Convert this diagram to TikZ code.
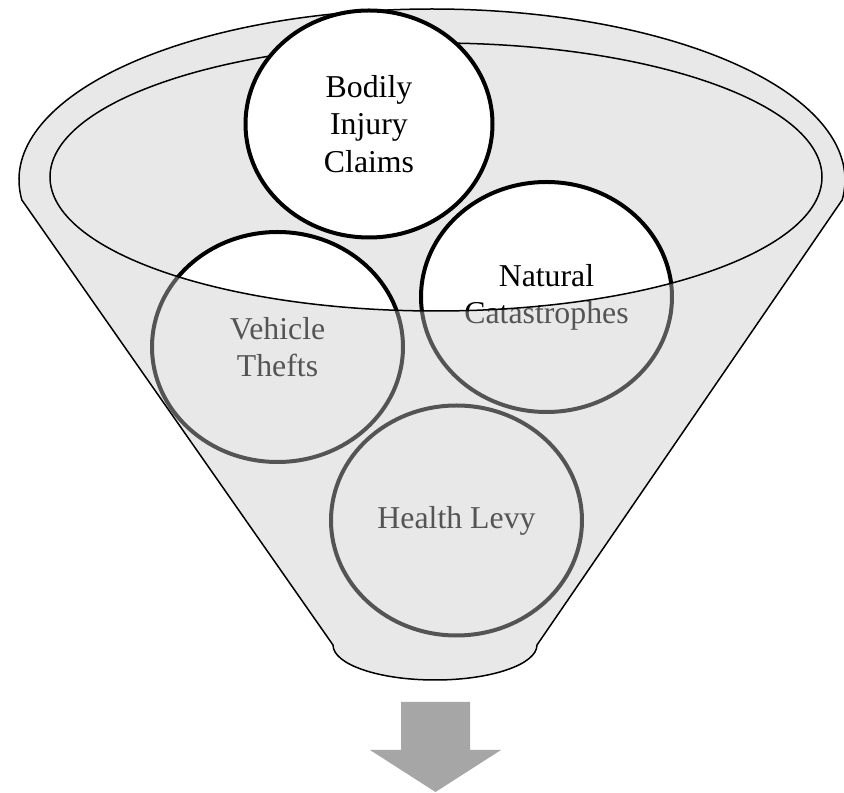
\documentclass[tikz,border=0pt]{standalone}
\usepackage{fontspec}
\setmainfont{Liberation Serif}
\usetikzlibrary{shapes.geometric}
\definecolor{funnelgray}{RGB}{232,232,232}
\definecolor{veilgray}{RGB}{201,201,201}
\definecolor{arrowgray}{RGB}{166,166,166}
\tikzset{
  bubble/.style={ellipse, draw=black, line width=4pt, fill=white, inner sep=0pt,
    minimum width=251pt, minimum height=230pt, align=center,
    font=\fontsize{31.8}{37}\selectfont},
  rim/.style={draw=black, line width=1.5pt}
}
\begin{document}
\begin{tikzpicture}[x=1pt,y=1pt]
  \useasboundingbox (0,0) rectangle (844,793);
  % back of the funnel
  \fill[funnelgray] (436,616) ellipse [x radius=386, y radius=134];
  % bubbles that fall in
  \node[bubble] (vehicle) at (277.5,446) {Vehicle\\Thefts};
  \node[bubble] (natural) at (546.5,496) {Natural\\Catastrophes};
  \node[bubble] (health) at (456.5,272.5) {Health Levy};
  % front of the funnel, half see-through
  \path[rim, fill=veilgray, fill opacity=0.42, even odd rule]
    (432,613) ++(186.7:413 and 171)
    arc[start angle=186.7, end angle=-6.7, x radius=413, y radius=171]
    -- (537,148) arc[start angle=0, end angle=-180, x radius=102, y radius=35]
    -- cycle
    (436,616) ellipse [x radius=386, y radius=134];
  % top bubble
  \node[bubble, minimum width=247pt, minimum height=227pt,
    font=\fontsize{31.8}{37.5}\selectfont] (bodily) at (369,669) {Bodily\\Injury\\Claims};
  % arrow out of the funnel
  \fill[arrowgray] (401,91) -- (470,91) -- (470,43) -- (501,43) -- (435.5,1)
    -- (370,43) -- (401,43) -- cycle;
\end{tikzpicture}
\end{document}
